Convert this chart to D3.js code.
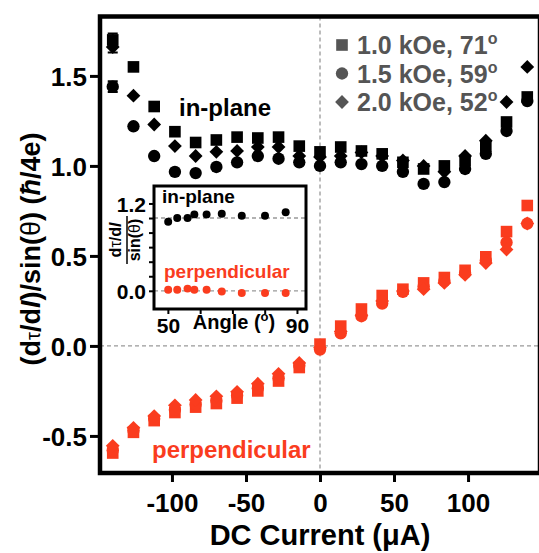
<!DOCTYPE html>
<html><head><meta charset="utf-8">
<script src="https://cdn.jsdelivr.net/npm/d3@7"></script>
<style>body{margin:0;background:#fff}svg{display:block}text{font-family:"Liberation Sans",Arial,sans-serif;font-weight:bold}</style>
</head><body>
<script>
// ---- data ----
const currents = [-140,-126,-112,-98,-84,-70,-56,-42,-28,-14,0,14,28,42,56,70,84,98,112,126,140];
const inPlane10 = [1.70,1.55,1.33,1.19,1.13,1.144,1.16,1.155,1.16,1.11,1.078,1.105,1.083,1.067,1.02,0.983,1.0,1.03,1.11,1.244,1.383];
const inPlane15 = [1.44,1.22,1.055,0.967,0.96,0.994,1.02,1.055,1.04,1.02,1.0,1.02,1.01,1.0,0.967,0.9,0.91,0.983,1.067,1.194,1.36];
const inPlane20 = [1.66,1.39,1.23,1.11,1.055,1.078,1.083,1.105,1.105,1.055,1.05,1.055,1.075,1.055,1.03,1.0,0.967,1.055,1.14,1.355,1.55];
const perp10 = [-0.595,-0.48,-0.415,-0.37,-0.34,-0.32,-0.29,-0.25,-0.195,-0.12,0.01,0.11,0.205,0.28,0.315,0.35,0.38,0.42,0.495,0.635,0.78];
const perp15 = [-0.58,-0.47,-0.405,-0.355,-0.325,-0.305,-0.275,-0.235,-0.18,-0.11,-0.02,0.07,0.165,0.235,0.30,0.33,0.36,0.405,0.475,0.575,0.68];
const perp20 = [-0.555,-0.455,-0.39,-0.33,-0.30,-0.28,-0.255,-0.21,-0.155,-0.095,-0.01,0.08,0.17,0.25,0.305,0.315,0.35,0.395,0.46,0.535,0.68];
const errBars = [{x:-140, lo:1.63, hi:1.735},{x:-140, lo:1.41, hi:1.47}];
const legendLabels = ["1.0 kOe, 71","1.5 kOe, 59","2.0 kOe, 52"];
const xTicks = [-100,-50,0,50,100];
const yTicks = [-0.5,0,0.5,1.0,1.5];
// inset data
const insetAngles = [50.1,52.9,56.1,58.2,62.0,66.7,72.9,80.1,86.5];
const insetInPlane = [0.95,1.0,1.0,1.05,1.05,1.06,1.03,1.03,1.08];
const insetPerp = [0.014,0.014,0.03,0.014,0.014,-0.01,-0.03,-0.03,-0.03];
const insetYTicks = [0,0.2,0.4,0.6,0.8,1.0,1.2];
const insetXTicks = [50,60,70,80,90];

const RED = "#fa3c1e";
const W = 539, H = 553;
const svg = d3.select("body").append("svg").attr("width", W).attr("height", H);
const hy = s => String(s).replace("\u2212", "-");

const x = d3.scaleLinear().domain([-148.6, 148.6]).range([100, 540]);
const y = d3.scaleLinear().domain([-0.706, 1.83]).range([473, 16.5]);

// zero dashed lines
svg.append("line").attr("x1", x(0)).attr("x2", x(0)).attr("y1", y.range()[1]).attr("y2", y.range()[0])
  .attr("stroke", "#999").attr("stroke-width", 1.3).attr("stroke-dasharray", "4,3");
svg.append("line").attr("x1", x.range()[0]).attr("x2", x.range()[1]).attr("y1", y(0)).attr("y2", y(0))
  .attr("stroke", "#999").attr("stroke-width", 1.3).attr("stroke-dasharray", "4,3");

// axes
const xAxis = svg.append("g").attr("transform", `translate(0,${y.range()[0]})`)
  .call(d3.axisBottom(x).tickValues(xTicks).tickSize(9).tickPadding(12).tickFormat(d => hy(d3.format("d")(d))));
const yAxis = svg.append("g").attr("transform", `translate(${x.range()[0]},0)`)
  .call(d3.axisLeft(y).tickValues(yTicks).tickSize(10).tickPadding(3).tickFormat(d => hy(d3.format(".1f")(d))));
[xAxis, yAxis].forEach(a => {
  a.select(".domain").remove();
  a.selectAll(".tick line").attr("stroke", "#000").attr("stroke-width", 3);
  a.selectAll(".tick text").attr("font-size", 26).attr("fill", "#000")
   .style("font-family", '"Liberation Sans",Arial,sans-serif').style("font-weight", "bold");
});
yAxis.selectAll(".tick text").attr("dy", "0.36em");

// frame
svg.append("rect").attr("x", x.range()[0]).attr("y", y.range()[1])
  .attr("width", x.range()[1] - x.range()[0]).attr("height", y.range()[0] - y.range()[1])
  .attr("fill", "none").attr("stroke", "#000").attr("stroke-width", 4.5);

// markers
const symPath = {
  square: d3.symbol(d3.symbolSquare, 135)(),
  circle: d3.symbol(d3.symbolCircle, 120)(),
  diamond: d3.symbol(d3.symbolSquare, 95)()
};
function drawSeries(g, xs, ys, shape, color, xs_, ys_) {
  g.selectAll(null).data(xs.map((v, i) => [v, ys[i]])).join("path")
    .attr("d", symPath[shape]).attr("fill", color)
    .attr("transform", d => `translate(${xs_(d[0])},${ys_(d[1])})` + (shape === "diamond" ? " rotate(45)" : ""));
}
const gm = svg.append("g");
// error bars
gm.selectAll(null).data(errBars).join("path")
  .attr("d", d => `M${x(d.x)-5},${y(d.hi)}H${x(d.x)+5}M${x(d.x)},${y(d.hi)}V${y(d.lo)}M${x(d.x)-5},${y(d.lo)}H${x(d.x)+5}`)
  .attr("stroke", "#000").attr("stroke-width", 2).attr("fill", "none");
drawSeries(gm, currents, inPlane10, "square", "#000", x, y);
drawSeries(gm, currents, inPlane15, "circle", "#000", x, y);
drawSeries(gm, currents, inPlane20, "diamond", "#000", x, y);
drawSeries(gm, currents, perp10, "square", RED, x, y);
drawSeries(gm, currents, perp15, "circle", RED, x, y);
drawSeries(gm, currents, perp20, "diamond", RED, x, y);

// labels
svg.append("text").attr("x", 179).attr("y", 116).attr("font-size", 24).attr("fill", "#000").text("in-plane");
svg.append("text").attr("x", 152).attr("y", 458).attr("font-size", 24).attr("fill", RED).text("perpendicular");

// legend
const shapes = ["square", "circle", "diamond"];
const lg = svg.append("g");
legendLabels.forEach((t, i) => {
  const cy = 45 + i * 28.5;
  lg.append("path").attr("d", symPath[shapes[i]]).attr("fill", "#555")
    .attr("transform", `translate(342,${cy})` + (shapes[i] === "diamond" ? " rotate(45)" : ""));
  const tx = lg.append("text").attr("x", 357).attr("y", cy + 9).attr("font-size", 25).attr("fill", "#555");
  tx.append("tspan").text(t);
  tx.append("tspan").attr("font-size", 16).attr("dy", -10).text("o");
});

// x label
svg.append("text").attr("x", 320).attr("y", 545).attr("text-anchor", "middle").attr("font-size", 29)
  .attr("fill", "#000").text("DC Current (\u03bcA)");

// y label
const yl = svg.append("text").attr("transform", "translate(40,249) rotate(-90)").attr("text-anchor", "middle")
  .attr("font-size", 27).attr("fill", "#000");
yl.append("tspan").text("(d");
yl.append("tspan").attr("font-weight", "normal").attr("font-size", 20).text("\u03c4");
yl.append("tspan").text("/d");
yl.append("tspan").attr("font-style", "italic").text("I");
yl.append("tspan").text(")/sin(");
yl.append("tspan").attr("font-weight", "normal").text("\u03b8");
yl.append("tspan").text(") (");
yl.append("tspan").attr("font-style", "italic").text("\u0127");
yl.append("tspan").text("/4e)");

// ---- inset ----
const xi = d3.scaleLinear().domain([45.7, 92.8]).range([154, 306]);
const yi = d3.scaleLinear().domain([-0.25, 1.44]).range([309, 186]);
const ins = svg.append("g");
ins.append("rect").attr("x", xi.range()[0]).attr("y", yi.range()[1])
  .attr("width", xi.range()[1] - xi.range()[0]).attr("height", yi.range()[0] - yi.range()[1]).attr("fill", "#fff");
[0, 1].forEach(v => ins.append("line").attr("x1", xi.range()[0]).attr("x2", xi.range()[1]).attr("y1", yi(v)).attr("y2", yi(v))
  .attr("stroke", "#999").attr("stroke-width", 1.3).attr("stroke-dasharray", "4,3"));
const ixa = ins.append("g").attr("transform", `translate(0,${yi.range()[0]})`)
  .call(d3.axisBottom(xi).tickValues(insetXTicks).tickSize(5).tickPadding(4).tickFormat(d => (d === 50 || d === 90) ? d : ""));
const iya = ins.append("g").attr("transform", `translate(${xi.range()[0]},0)`)
  .call(d3.axisLeft(yi).tickValues(insetYTicks).tickSize(5).tickPadding(3).tickFormat(d => (d === 0 || d === 1.2) ? d3.format(".1f")(d) : ""));
[ixa, iya].forEach(a => {
  a.select(".domain").remove();
  a.selectAll(".tick line").attr("stroke", "#000").attr("stroke-width", 2);
  a.selectAll(".tick text").attr("font-size", 21).attr("fill", "#000")
   .style("font-family", '"Liberation Sans",Arial,sans-serif').style("font-weight", "bold");
});
iya.selectAll(".tick text").attr("dy", "0.36em");
ixa.selectAll(".tick text").attr("dy", "0.72em");
ins.append("rect").attr("x", xi.range()[0]).attr("y", yi.range()[1])
  .attr("width", xi.range()[1] - xi.range()[0]).attr("height", yi.range()[0] - yi.range()[1])
  .attr("fill", "none").attr("stroke", "#000").attr("stroke-width", 3);
const dotI = d3.symbol(d3.symbolCircle, 50)();
ins.selectAll(null).data(insetAngles.map((a, i) => [a, insetInPlane[i]])).join("path")
  .attr("d", dotI).attr("fill", "#000").attr("transform", d => `translate(${xi(d[0])},${yi(d[1])})`);
ins.selectAll(null).data(insetAngles.map((a, i) => [a, insetPerp[i]])).join("path")
  .attr("d", dotI).attr("fill", RED).attr("transform", d => `translate(${xi(d[0])},${yi(d[1])})`);
ins.append("text").attr("x", 162).attr("y", 203).attr("font-size", 19).attr("fill", "#000").text("in-plane");
ins.append("text").attr("x", 164).attr("y", 278).attr("font-size", 19).attr("fill", RED).text("perpendicular");
const ax = ins.append("text").attr("x", 234).attr("y", 329).attr("text-anchor", "middle").attr("font-size", 20).attr("fill", "#000");
ax.append("tspan").text("Angle (");
ax.append("tspan").attr("font-size", 13).attr("dy", -8).text("o");
ax.append("tspan").attr("dy", 8).text(")");
// inset y label (fraction)
const fl = ins.append("g").attr("transform", "translate(127,240) rotate(-90)");
fl.append("text").attr("x", 0).attr("y", -6).attr("text-anchor", "middle").attr("font-size", 16).attr("fill", "#000")
  .call(t => { t.append("tspan").text("d"); t.append("tspan").attr("font-weight", "normal").text("\u03c4");
    t.append("tspan").text("/d"); t.append("tspan").attr("font-style", "italic").text("I"); });
fl.append("line").attr("x1", -24).attr("x2", 24).attr("y1", 0).attr("y2", 0).attr("stroke", "#000").attr("stroke-width", 1.5);
fl.append("text").attr("x", 0).attr("y", 13).attr("text-anchor", "middle").attr("font-size", 16).attr("fill", "#000")
  .call(t => { t.append("tspan").text("sin("); t.append("tspan").attr("font-weight", "normal").text("\u03b8"); t.append("tspan").text(")"); });
</script>
</body></html>
